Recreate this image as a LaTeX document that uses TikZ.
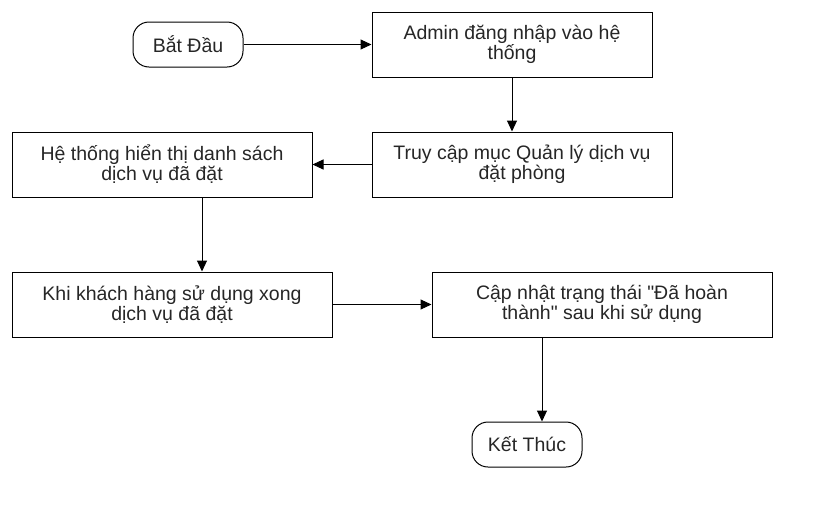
\documentclass[tikz,border=0pt]{standalone}
\usepackage{fontspec}
\setmainfont{Liberation Sans}
\usetikzlibrary{arrows.meta}
\begin{document}
\begin{tikzpicture}[x=1pt,y=-1pt,
  every node/.style={font=\fontsize{19.5}{20}\selectfont, text=black!85, align=center, inner sep=0pt},
  proc/.style={draw=black, line width=1pt, minimum width=#1, minimum height=65pt},
  term/.style={draw=black, line width=1pt, rounded corners=16pt, minimum width=110pt, minimum height=45pt},
  conn/.style={draw=black, line width=1pt, -{Triangle[length=11pt,width=10pt]}}]
\useasboundingbox (0,0) rectangle (822,517);
\node[term] (s) at (188,44.5) {Bắt Đầu};
\node[proc=280pt] (a) at (512,44.5) {Admin đăng nhập vào hệ\\thống};
\node[proc=300pt] (b) at (522,164.5) {Truy cập mục Quản lý dịch vụ\\đặt phòng};
\node[proc=300pt] (c) at (162,164.5) {Hệ thống hiển thị danh sách\\dịch vụ đã đặt};
\node[proc=320pt] (d) at (172,304.5) {Khi khách hàng sử dụng xong\\dịch vụ đã đặt};
\node[proc=340pt] (e) at (602,304.5) {Cập nhật trạng thái \textquotedbl Đã hoàn\\thành\textquotedbl{} sau khi sử dụng};
\node[term] (f) at (527,444.5) {Kết Thúc};
\draw[conn] (s.east) -- (a.west);
\draw[conn] (a.south) -- (b.north -| a.south);
\draw[conn] (b.west) -- (c.east);
\draw[conn] ([xshift=40pt]c.south) -- ([xshift=40pt]c.south |- d.north);
\draw[conn] (d.east) -- (e.west);
\draw[conn] ([xshift=-60pt]e.south) -- ([xshift=-60pt]e.south |- f.north);
\end{tikzpicture}
\end{document}
